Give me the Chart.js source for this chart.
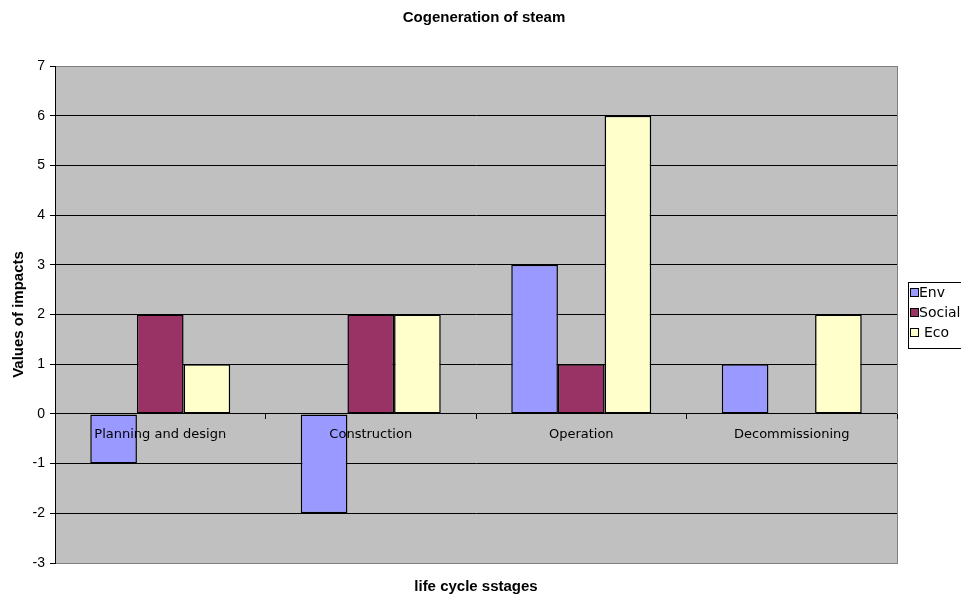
<!DOCTYPE html>
<html>
<head>
<meta charset="utf-8">
<title>Cogeneration of steam</title>
<script src="https://cdn.jsdelivr.net/npm/chart.js@4/dist/chart.umd.min.js"></script>
<style>
  html, body { margin: 0; padding: 0; background: #fff; }
  #wrap { width: 961px; height: 597px; position: relative; }
</style>
</head>
<body>
<div id="wrap"><canvas id="impactChart"></canvas></div>
<script>
// life cycle stages and the impact scores per aspect
const stages = ["Planning and design", "Construction", "Operation", "Decommissioning"];
const envValues = [-1, -2, 3, 1];
const socialValues = [2, 2, 1, 0];
const ecoValues = [1, 2, 6, 2];
const seriesNames = ["Env", "Social", "Eco"];
const yTicks = [-3, -2, -1, 0, 1, 2, 3, 4, 5, 6, 7];

const chartTitle = "Cogeneration of steam";
const xTitle = "life cycle sstages";
const yTitle = "Values of impacts";

const labelFont = "DejaVu Sans";
const axisFont = "Liberation Sans";

// grey plot background, frame, titles and the boxed legend
const decorPlugin = {
  id: "decor",
  beforeDraw(chart) {
    const { ctx, chartArea: a } = chart;
    ctx.save();
    ctx.fillStyle = "#C0C0C0";
    ctx.fillRect(a.left, a.top, a.right - a.left, a.bottom - a.top);
    ctx.strokeStyle = "#808080";
    ctx.lineWidth = 1;
    ctx.strokeRect(a.left + 0.5, a.top + 0.5, a.right - a.left, a.bottom - a.top);
    ctx.restore();
  },
  afterDraw(chart) {
    const { ctx, chartArea: a } = chart;
    ctx.save();
    ctx.fillStyle = "#000";
    ctx.textAlign = "center";
    ctx.textBaseline = "middle";
    ctx.font = "bold 15px " + axisFont;
    ctx.fillText(chartTitle, 484, 18);
    ctx.fillText(xTitle, (a.left + a.right) / 2, 587);
    ctx.translate(19, (a.top + a.bottom) / 2);
    ctx.rotate(-Math.PI / 2);
    ctx.fillText(yTitle, 0, 0);
    ctx.restore();

    // legend
    ctx.save();
    ctx.fillStyle = "#fff";
    ctx.strokeStyle = "#000";
    ctx.lineWidth = 1;
    ctx.fillRect(908.5, 282.5, 70, 66);
    ctx.strokeRect(908.5, 282.5, 70, 66);
    ctx.font = "14px " + labelFont;
    ctx.textAlign = "left";
    ctx.textBaseline = "middle";
    const rows = [293, 313, 333];
    chart.data.datasets.forEach((ds, i) => {
      ctx.fillStyle = ds.backgroundColor;
      ctx.fillRect(910.5, rows[i] - 4.5, 8, 8);
      ctx.strokeRect(910.5, rows[i] - 4.5, 8, 8);
      ctx.fillStyle = "#000";
      ctx.fillText(ds.label, i === 2 ? 924 : 919, rows[i]);
    });
    ctx.restore();
  }
};

const barStyle = {
  borderColor: "#000",
  borderWidth: 1.5,
  borderSkipped: false,
  barPercentage: 1,
  categoryPercentage: 0.665
};

new Chart(document.getElementById("impactChart"), {
  type: "bar",
  data: {
    labels: stages,
    datasets: [
      Object.assign({ label: seriesNames[0], data: envValues, backgroundColor: "#9999FF" }, barStyle),
      Object.assign({ label: seriesNames[1], data: socialValues, backgroundColor: "#993366" }, barStyle),
      Object.assign({ label: seriesNames[2], data: ecoValues, backgroundColor: "#FFFFCC" }, barStyle)
    ]
  },
  options: {
    responsive: true,
    maintainAspectRatio: false,
    animation: false,
    layout: { padding: { top: 66, bottom: 34, right: 64, left: 0 } },
    plugins: {
      legend: { display: false },
      title: { display: false },
      tooltip: { enabled: false }
    },
    scales: {
      x: {
        position: { y: 0 },
        grid: {
          display: true,
          drawOnChartArea: false,
          offset: true,
          tickLength: 5,
          tickColor: "#000",
          z: 1
        },
        border: { display: false },
        ticks: {
          color: "#000",
          font: { family: labelFont, size: 13 },
          padding: 8,
          maxRotation: 0,
          z: 1
        }
      },
      y: {
        min: -3,
        max: 7,
        afterBuildTicks(scale) {
          scale.ticks = yTicks.map(v => ({ value: v }));
        },
        afterFit(scale) {
          scale.width = 55;
        },
        grid: {
          color: ctx => (ctx.tick && (ctx.tick.value === 7 || ctx.tick.value === -3)) ? "#808080" : "#000",
          tickColor: "#000",
          tickLength: 5
        },
        border: { display: true, color: "#000" },
        ticks: {
          color: "#000",
          font: { family: axisFont, size: 14 },
          padding: 5
        }
      }
    }
  },
  plugins: [decorPlugin]
});
</script>
</body>
</html>
